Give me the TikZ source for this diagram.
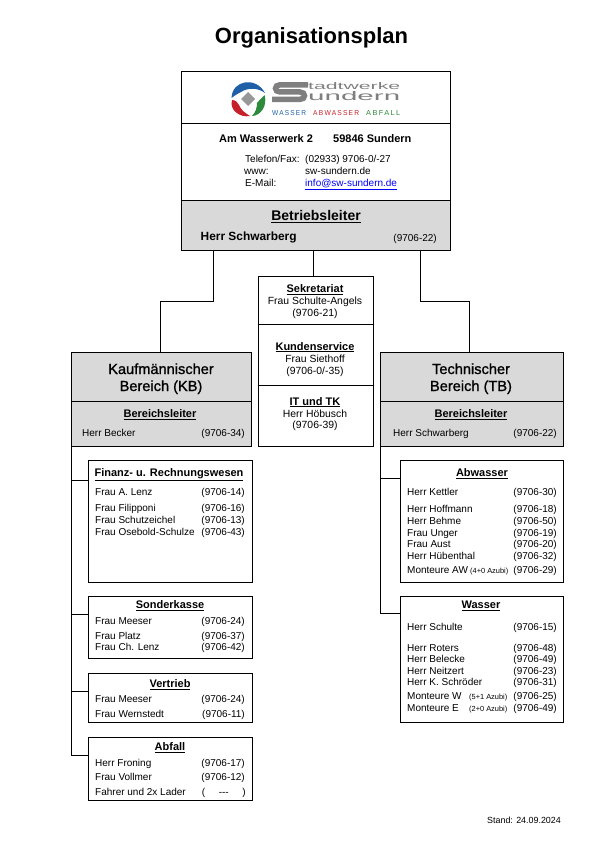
\documentclass[tikz,border=0pt]{standalone}
\usepackage{fontspec}
\setmainfont{Liberation Sans}
\definecolor{feldgrau}{HTML}{D9D9D9}
\definecolor{logograu}{HTML}{7F7F7F}
\definecolor{logoblau}{HTML}{1F5FA8}
\definecolor{logorot}{HTML}{C8202A}
\definecolor{logogruen}{HTML}{2E8B3D}
\tikzset{
	feld/.style={draw=black, line width=1pt, anchor=north west, inner sep=0pt, outer sep=0pt},
	linie/.style={draw=black, line width=1pt},
	text links/.style={anchor=base west, yshift=-3.5pt, inner sep=0pt, font=\fontsize{10}{12}\selectfont},
	text rechts/.style={anchor=base east, yshift=-3.5pt, inner sep=0pt, font=\fontsize{10}{12}\selectfont},
	text mitte/.style={anchor=base, yshift=-3.5pt, inner sep=0pt, font=\fontsize{10.4}{12}\selectfont},
	kopf/.style={anchor=base, yshift=-3.5pt, inner sep=0pt, font=\fontsize{11}{13}\bfseries\selectfont},
	bereich/.style={anchor=base, yshift=-5pt, inner sep=0pt, font=\fontsize{14.6}{17}\selectfont\addfontfeature{FakeBold=1}},
	klein/.style={anchor=base west, yshift=-3pt, inner sep=0pt, font=\fontsize{7.4}{9}\selectfont},
	logotext/.style={anchor=west, inner sep=0pt, text=logograu},
	logozeile/.style={anchor=west, inner sep=0pt, font=\addfontfeature{LetterSpace=18}}
}
\begin{document}
\begin{tikzpicture}[x=1pt,y=-1pt]
		\useasboundingbox (0,0) rectangle (595,842);

		\node [anchor=base, yshift=-8pt, inner sep=0pt, font=\fontsize{22}{24}\bfseries\selectfont] (titel) at (311.5,36) {Organisationsplan};

		% Kopf
		\node [feld, minimum width=269pt, minimum height=52pt] (logo) at (181,72) {};
		\node [feld, minimum width=269pt, minimum height=77pt] (adresse) at (181,124) {};
		\node [feld, fill=feldgrau, minimum width=269pt, minimum height=49pt] (leitung) at (181,201) {};

		\fill [logoblau] (231.5,98) .. controls (232,80) and (256,76) .. (265,93) .. controls (257,87) and (247,88) .. (241,92) .. controls (237,94) and (234,96) .. (231.5,98) -- cycle;
		\fill [logorot] (232,100) .. controls (236,100) and (238,103) .. (239,105) .. controls (241,110) and (245,113) .. (250,116) .. controls (240,118) and (229,110) .. (232,100) -- cycle;
		\fill [logogruen] (264.5,95) .. controls (268,106) and (260,116) .. (252,116) .. controls (256,112) and (257,107) .. (257,103) .. controls (259,100) and (262,98) .. (264.5,95) -- cycle;
		\fill [logograu!80] (248,92) -- (255,99) -- (248,106) -- (241,99) -- cycle;
		\draw [logograu, line width=5.5pt] (308,84.8) -- (280,84.8) .. controls (274,84.8) and (274,92) .. (280,92) -- (300,92) .. controls (306,92) and (306,99.4) .. (300,99.4) -- (272,99.4);

		\node [logotext] (stadtwerke) at (308,86.5) {\resizebox{92pt}{7pt}{tadtwerke}};
		\node [logotext] (sundern) at (308,96.5) {\resizebox{92pt}{9pt}{undern}};
		\node [logozeile, text=logoblau] (wasser) at (272,113) {\resizebox{34pt}{5pt}{WASSER}};
		\node [logozeile, text=logorot] (abwasser) at (313,113) {\resizebox{46pt}{5pt}{ABWASSER}};
		\node [logozeile, text=logogruen] (abfall) at (366,113) {\resizebox{34pt}{5pt}{ABFALL}};

		\node [text links, font=\fontsize{11}{13}\bfseries\selectfont] (strasse) at (219,139) {Am Wasserwerk 2};
		\node [text links, font=\fontsize{11}{13}\bfseries\selectfont] (ort) at (333,139) {59846 Sundern};
		\node [text links] (telefon) at (245,159) {Telefon/Fax:};
		\node [text links] (telefonnr) at (305,159) {(02933) 9706-0/-27};
		\node [text links] (www) at (244,171) {www:};
		\node [text links] (wwwadr) at (305,171) {sw-sundern.de};
		\node [text links] (email) at (245,183) {E-Mail:};
		\node [text links, text=blue] (emailadr) at (305,183) {\underline{info@sw-sundern.de}};

		\node [kopf, font=\fontsize{14}{16}\bfseries\selectfont, yshift=-1pt] (leiterkopf) at (316,216) {\underline{Betriebsleiter}};
		\node [text links, font=\fontsize{11.9}{14}\bfseries\selectfont] (leitername) at (200.5,237) {Herr Schwarberg};
		\node [text rechts] (leitertel) at (437,238) {(9706-22)};

		% Stabsstellen
		\node [feld, minimum width=115pt, minimum height=48pt] (sekretariat) at (258,276) {};
		\node [feld, minimum width=115pt, minimum height=61pt] (kunden) at (258,324) {};
		\node [feld, minimum width=115pt, minimum height=61pt] (it) at (258,385) {};

		\node [kopf] (sekkopf) at (315,289) {\underline{Sekretariat}};
		\node [text mitte] (sekname) at (315,301) {Frau Schulte-Angels};
		\node [text mitte] (sektel) at (315,313) {(9706-21)};
		\node [kopf] (kdkopf) at (315,346.5) {\underline{Kundenservice}};
		\node [text mitte] (kdname) at (315,358.5) {Frau Siethoff};
		\node [text mitte] (kdtel) at (315,371) {(9706-0/-35)};
		\node [kopf] (itkopf) at (315,401.5) {\underline{IT und TK}};
		\node [text mitte] (itname) at (315,413.5) {Herr Höbusch};
		\node [text mitte] (ittel) at (315,425) {(9706-39)};

		% Kaufmaennischer Bereich
		\node [feld, fill=feldgrau, minimum width=180pt, minimum height=49pt] (kb) at (71,352) {};
		\node [feld, fill=feldgrau, minimum width=180pt, minimum height=45pt] (kbleiter) at (71,401) {};
		\node [bereich] (kbtitel1) at (161,369) {Kaufmännischer};
		\node [bereich] (kbtitel2) at (161,386) {Bereich (KB)};
		\node [kopf] (kbkopf) at (160,414) {\underline{Bereichsleiter}};
		\node [text links] (kbname) at (82,433) {Herr Becker};
		\node [text rechts] (kbtel) at (245,433) {(9706-34)};

		\node [feld, minimum width=164pt, minimum height=122pt] (finanz) at (88,460) {};
		\node [kopf] (finkopf) at (169,473) {\underline{Finanz- u. Rechnungswesen}};
		\node [text links] (fin1) at (95,492) {Frau A. Lenz};
		\node [text rechts] (fin1t) at (245,492) {(9706-14)};
		\node [text links] (fin2) at (95,508) {Frau Filipponi};
		\node [text rechts] (fin2t) at (245,508) {(9706-16)};
		\node [text links] (fin3) at (95,520) {Frau Schutzeichel};
		\node [text rechts] (fin3t) at (245,520) {(9706-13)};
		\node [text links] (fin4) at (95,532) {Frau Osebold-Schulze};
		\node [text rechts] (fin4t) at (245,532) {(9706-43)};

		\node [feld, minimum width=164pt, minimum height=62pt] (sonder) at (88,596) {};
		\node [kopf] (sonkopf) at (170,605) {\underline{Sonderkasse}};
		\node [text links] (son1) at (95,621) {Frau Meeser};
		\node [text rechts] (son1t) at (245,621) {(9706-24)};
		\node [text links] (son2) at (95,636) {Frau Platz};
		\node [text rechts] (son2t) at (245,636) {(9706-37)};
		\node [text links] (son3) at (95,647) {Frau Ch. Lenz};
		\node [text rechts] (son3t) at (245,647) {(9706-42)};

		\node [feld, minimum width=164pt, minimum height=49pt] (vertrieb) at (88,673) {};
		\node [kopf] (verkopf) at (170,684) {\underline{Vertrieb}};
		\node [text links] (ver1) at (95,699) {Frau Meeser};
		\node [text rechts] (ver1t) at (245,699) {(9706-24)};
		\node [text links] (ver2) at (95,714) {Frau Wernstedt};
		\node [text rechts] (ver2t) at (245,714) {(9706-11)};

		\node [feld, minimum width=164pt, minimum height=63pt] (abf) at (88,737) {};
		\node [kopf] (abfkopf) at (170,747) {\underline{Abfall}};
		\node [text links] (abf1) at (95,763) {Herr Froning};
		\node [text rechts] (abf1t) at (245,763) {(9706-17)};
		\node [text links] (abf2) at (95,777) {Frau Vollmer};
		\node [text rechts] (abf2t) at (245,777) {(9706-12)};
		\node [text links] (abf3) at (95,792) {Fahrer und 2x Lader};
		\node [text rechts] (abf3t) at (246,792) {\makebox[44pt]{(\hfill-{}-{}-\hfill)}};

		% Technischer Bereich
		\node [feld, fill=feldgrau, minimum width=183pt, minimum height=49pt] (tb) at (380,352) {};
		\node [feld, fill=feldgrau, minimum width=183pt, minimum height=45pt] (tbleiter) at (380,401) {};
		\node [bereich] (tbtitel1) at (471,369) {Technischer};
		\node [bereich] (tbtitel2) at (471,386) {Bereich (TB)};
		\node [kopf] (tbkopf) at (471,414) {\underline{Bereichsleiter}};
		\node [text links] (tbname) at (393,433) {Herr Schwarberg};
		\node [text rechts] (tbtel) at (557,433) {(9706-22)};

		\node [feld, minimum width=163pt, minimum height=122pt] (abwbox) at (400,460) {};
		\node [kopf] (abwkopf) at (482,473) {\underline{Abwasser}};
		\node [text links] (abw1) at (407,492) {Herr Kettler};
		\node [text rechts] (abw1t) at (557,492) {(9706-30)};
		\node [text links] (abw2) at (407,509) {Herr Hoffmann};
		\node [text rechts] (abw2t) at (557,509) {(9706-18)};
		\node [text links] (abw3) at (407,521) {Herr Behme};
		\node [text rechts] (abw3t) at (557,521) {(9706-50)};
		\node [text links] (abw4) at (407,533) {Frau Unger};
		\node [text rechts] (abw4t) at (557,533) {(9706-19)};
		\node [text links] (abw5) at (407,543.5) {Frau Aust};
		\node [text rechts] (abw5t) at (557,543.5) {(9706-20)};
		\node [text links] (abw6) at (407,556) {Herr Hübenthal};
		\node [text rechts] (abw6t) at (557,556) {(9706-32)};
		\node [text links] (abw7) at (407,570) {Monteure AW};
		\node [klein] (abw7a) at (470,570) {(4+0 Azubi)};
		\node [text rechts] (abw7t) at (557,570) {(9706-29)};

		\node [feld, minimum width=163pt, minimum height=126pt] (wasbox) at (400,596) {};
		\node [kopf] (waskopf) at (481,605) {\underline{Wasser}};
		\node [text links] (was1) at (407,627) {Herr Schulte};
		\node [text rechts] (was1t) at (557,627) {(9706-15)};
		\node [text links] (was2) at (407,648) {Herr Roters};
		\node [text rechts] (was2t) at (557,648) {(9706-48)};
		\node [text links] (was3) at (407,658.5) {Herr Belecke};
		\node [text rechts] (was3t) at (557,658.5) {(9706-49)};
		\node [text links] (was4) at (407,671) {Herr Neitzert};
		\node [text rechts] (was4t) at (557,671) {(9706-23)};
		\node [text links] (was5) at (407,682) {Herr K. Schröder};
		\node [text rechts] (was5t) at (557,682) {(9706-31)};
		\node [text links] (was6) at (407,696) {Monteure W};
		\node [klein] (was6a) at (469,696.5) {(5+1 Azubi)};
		\node [text rechts] (was6t) at (557,696) {(9706-25)};
		\node [text links] (was7) at (407,708) {Monteure E};
		\node [klein] (was7a) at (469,708.5) {(2+0 Azubi)};
		\node [text rechts] (was7t) at (557,708) {(9706-49)};

		\node [text rechts, font=\fontsize{8.9}{11}\selectfont, yshift=0.5pt] (stand) at (561,820) {Stand: 24.09.2024};

		% Verbindungen
		\coordinate (abzwkb) at (213,250);
		\coordinate (abzwsek) at (313,250);
		\coordinate (abzwtb) at (420,250);
		\coordinate (knickkb) at (160,301);
		\coordinate (knicktb) at (469,301);
		\coordinate (zielkb) at (160,352);
		\coordinate (zielsek) at (313,276);
		\coordinate (zieltb) at (469,352);

		\draw [linie] (abzwkb) |- (knickkb) -- (zielkb);
		\draw [linie] (abzwsek) -- (zielsek);
		\draw [linie] (abzwtb) |- (knicktb) -- (zieltb);

		\coordinate (astfin) at (88,480);
		\coordinate (astson) at (88,614);
		\coordinate (astver) at (88,691);
		\coordinate (astabf) at (88,755);
		\coordinate (astabw) at (400,478);
		\coordinate (astwas) at (400,613);

		\draw [linie] (kbleiter.south west) |- (astabf);
		\draw [linie] (kbleiter.south west |- astfin) -- (astfin);
		\draw [linie] (kbleiter.south west |- astson) -- (astson);
		\draw [linie] (kbleiter.south west |- astver) -- (astver);
		\draw [linie] (tbleiter.south west) |- (astwas);
		\draw [linie] (tbleiter.south west |- astabw) -- (astabw);

		\end{tikzpicture}
\end{document}
